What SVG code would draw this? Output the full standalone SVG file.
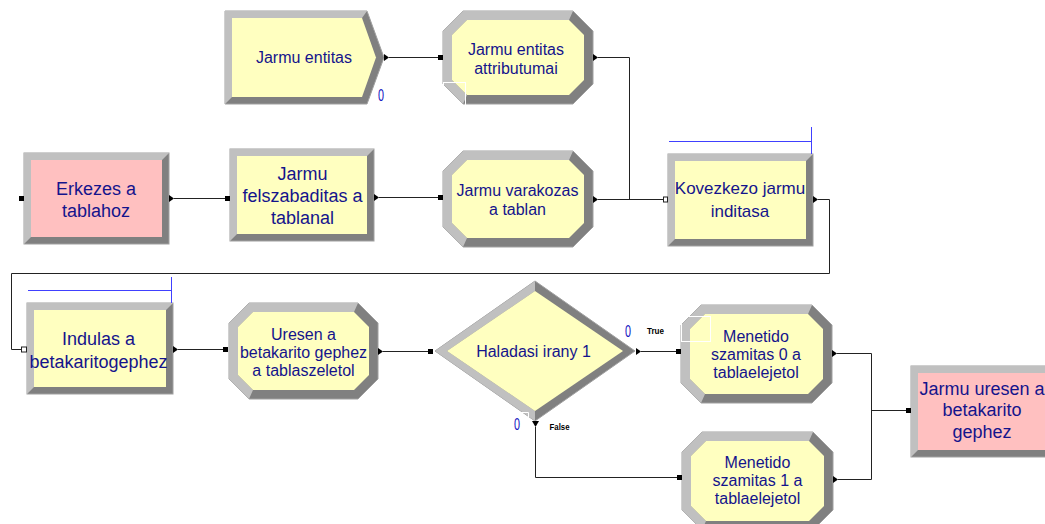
<svg xmlns="http://www.w3.org/2000/svg" width="1045" height="524" viewBox="0 0 1045 524">
<defs>
<style>
.dk{fill:#808080;stroke:#a0a0a0;stroke-width:1}
.lt{fill:#c0c0c0}
.yl{fill:#ffffc0}
.pk{fill:#ffc0c0}
.t{font-family:"Liberation Sans",Arial,sans-serif;fill:#14148c;text-anchor:middle}
.f16{font-size:16px}
.f17{font-size:17px}
.f18{font-size:18px}
.z{font-family:"Liberation Sans",Arial,sans-serif;font-size:17px;fill:#1010c0;text-anchor:middle}
.tf{font-family:"Liberation Sans",Arial,sans-serif;font-size:9px;font-weight:bold;fill:#000}
.cn{fill:none;stroke:#222;stroke-width:1}
.in{fill:#000}
.hin{fill:#fff;stroke:#222;stroke-width:1}
.ar{fill:#000}
.bl{fill:none;stroke:#4040ff;stroke-width:1}
.sel{fill:none;stroke:#fff;stroke-width:1}
</style>
</defs>
<rect width="1045" height="524" fill="#fff"/>

<g id="connectors">
<path class="cn" d="M389,57.5 H438"/>
<path class="cn" d="M598,57.5 H629.5 V199.5"/>
<path class="cn" d="M174,198.5 H225"/>
<path class="cn" d="M379,197.5 H438"/>
<path class="cn" d="M598,199.5 H663"/>
<path class="cn" d="M818,199.5 H829.5 V273.5 H11.5 V349.5 H21"/>
<path class="cn" d="M178,349.5 H223"/>
<path class="cn" d="M383,351.5 H428"/>
<path class="cn" d="M641,351.5 H676"/>
<path class="cn" d="M535.5,427 V477.5 H677"/>
<path class="cn" d="M837,353.5 H871.5 V479.5 H838"/>
<path class="cn" d="M871.5,410.5 H906"/>
</g>

<g id="jarmu-entitas">
<polygon class="dk" points="225,11 367,11 384,57.5 367,104 225,104"/>
<polygon class="lt" points="225,104 225,11 367,11 362,18 232,18 232,97"/>
<polygon class="yl" points="232,18 362,18 376,57.5 362,97 232,97"/>
<text class="t f16" x="304" y="63">Jarmu entitas</text>
<polygon class="ar" points="384,54 389,57.5 384,61"/>
<text class="z" x="381" y="101" textLength="6" lengthAdjust="spacingAndGlyphs">0</text>
</g>

<g id="jarmu-entitas-attributumai">
<polygon class="dk" points="463,11 573,11 593,31 593,84 573,104 463,104 443,84 443,31"/>
<polygon class="lt" points="463,104 443,84 443,31 463,11 573,11 569,20 467,20 452,35 452,80 467,95"/>
<polygon class="yl" points="467,20 569,20 584,35 584,80 569,95 467,95 452,80 452,35"/>
<text class="t f16" x="516" y="54.5">Jarmu entitas</text>
<text class="t f16" x="516" y="73.5">attributumai</text>
<rect class="in" x="438" y="55" width="5" height="5"/>
<polygon class="ar" points="593,54 598,57.5 593,61"/>
<rect class="sel" x="443.5" y="82.5" width="22" height="23"/>
</g>

<g id="erkezes-a-tablahoz">
<rect class="dk" x="24" y="153" width="145" height="91"/>
<polygon class="lt" points="24,153 169,153 162,160 31,160 31,237 24,244"/>
<rect class="pk" x="31" y="160" width="131" height="77"/>
<text class="t f18" x="96" y="195">Erkezes a</text>
<text class="t f18" x="96" y="216.5">tablahoz</text>
<rect class="in" x="19" y="196" width="5" height="5"/>
<polygon class="ar" points="169,195 174,198.5 169,202"/>
</g>

<g id="jarmu-felszabaditas">
<rect class="dk" x="230" y="149" width="144" height="92"/>
<polygon class="lt" points="230,149 374,149 367,156 237,156 237,234 230,241"/>
<rect class="yl" x="237" y="156" width="130" height="78"/>
<text class="t f18" x="302.5" y="179.5">Jarmu</text>
<text class="t f18" x="302.5" y="201.5">felszabaditas a</text>
<text class="t f18" x="302.5" y="223.5">tablanal</text>
<rect class="in" x="225" y="196" width="5" height="5"/>
<polygon class="ar" points="374,194 379,197.5 374,201"/>
</g>

<g id="jarmu-varakozas">
<polygon class="dk" points="463,151 573,151 593,171 593,227 573,247 463,247 443,227 443,171"/>
<polygon class="lt" points="463,247 443,227 443,171 463,151 573,151 569,160 467,160 452,175 452,223 467,238"/>
<polygon class="yl" points="467,160 569,160 584,175 584,223 569,238 467,238 452,223 452,175"/>
<text class="t f16" x="517.5" y="196">Jarmu varakozas</text>
<text class="t f16" x="517.5" y="215">a tablan</text>
<rect class="in" x="438" y="195" width="5" height="5"/>
<polygon class="ar" points="593,196 598,199.5 593,203"/>
</g>

<g id="kovezkezo-jarmu-inditasa">
<rect class="dk" x="668" y="154" width="145" height="92"/>
<polygon class="lt" points="668,154 813,154 806,161 675,161 675,239 668,246"/>
<rect class="yl" x="675" y="161" width="131" height="78"/>
<text class="t f17" x="740" y="194">Kovezkezo jarmu</text>
<text class="t f17" x="740" y="216.5">inditasa</text>
<rect class="hin" x="663.5" y="197" width="4" height="5"/>
<polygon class="ar" points="813,196 818,199.5 813,203"/>
<path class="bl" d="M669,141.5 H811.5 M811.5,127 V154"/>
</g>

<g id="indulas-a-betakaritogephez">
<rect class="dk" x="27" y="303" width="146" height="91"/>
<polygon class="lt" points="27,303 173,303 166,310 34,310 34,387 27,394"/>
<rect class="yl" x="34" y="310" width="132" height="77"/>
<text class="t f18" x="98.5" y="345">Indulas a</text>
<text class="t f18" x="98.5" y="367.5">betakaritogephez</text>
<rect class="hin" x="21.5" y="347" width="5" height="5"/>
<polygon class="ar" points="173,346 178,349.5 173,353"/>
<path class="bl" d="M28,290.5 H171.5 M171.5,277 V303"/>
</g>

<g id="uresen-a-betakarito">
<polygon class="dk" points="249,303 358,303 378,323 378,379 358,399 249,399 229,379 229,323"/>
<polygon class="lt" points="249,399 229,379 229,323 249,303 358,303 354,312 253,312 238,327 238,375 253,390"/>
<polygon class="yl" points="253,312 354,312 369,327 369,375 354,390 253,390 238,375 238,327"/>
<text class="t f16" x="303.5" y="339.5">Uresen a</text>
<text class="t f16" x="303.5" y="357.5">betakarito gephez</text>
<text class="t f16" x="303.5" y="376">a tablaszeletol</text>
<rect class="in" x="223" y="347" width="5" height="5"/>
<polygon class="ar" points="378,348 383,351.5 378,355"/>
</g>

<g id="haladasi-irany-1">
<polygon class="dk" points="435,351 535,281 635,351 535,421"/>
<polygon class="lt" points="535,421 435,351 535,281 535,291 447,351 535,411"/>
<polygon class="yl" points="447,351 535,291 623,351 535,411"/>
<text class="t f16" x="533.5" y="356.5">Haladasi irany 1</text>
<rect class="in" x="428" y="349" width="5" height="5"/>
<polygon class="ar" points="636,348 641,351.5 636,355"/>
<polygon class="ar" points="532,421 539,421 535.5,427"/>
<path class="sel" d="M517,412.5 H528.5 V420"/>
<text class="z" x="628" y="337" textLength="6" lengthAdjust="spacingAndGlyphs">0</text>
<text class="z" x="517" y="430" textLength="6" lengthAdjust="spacingAndGlyphs">0</text>
<text class="tf" x="647" y="334" textLength="17" lengthAdjust="spacingAndGlyphs">True</text>
<text class="tf" x="549.5" y="430" textLength="20" lengthAdjust="spacingAndGlyphs">False</text>
</g>

<g id="menetido-szamitas-0">
<polygon class="dk" points="701,305 812,305 832,325 832,383 812,403 701,403 681,383 681,325"/>
<polygon class="lt" points="701,403 681,383 681,325 701,305 812,305 808,314 705,314 690,329 690,379 705,394"/>
<polygon class="yl" points="705,314 808,314 823,329 823,379 808,394 705,394 690,379 690,329"/>
<text class="t f16" x="756" y="341.5">Menetido</text>
<text class="t f16" x="756" y="359.5">szamitas 0 a</text>
<text class="t f16" x="756" y="377.5">tablaelejetol</text>
<rect class="in" x="676" y="349" width="5" height="5"/>
<polygon class="ar" points="832,350 837,353.5 832,357"/>
<rect class="sel" x="681.5" y="316.5" width="29" height="25"/>
</g>

<g id="menetido-szamitas-1">
<polygon class="dk" points="702,432 813,432 833,452 833,510 813,530 702,530 682,510 682,452"/>
<polygon class="lt" points="702,530 682,510 682,452 702,432 813,432 809,441 706,441 691,456 691,506 706,521"/>
<polygon class="yl" points="706,441 809,441 824,456 824,506 809,521 706,521 691,506 691,456"/>
<text class="t f16" x="757.5" y="467.5">Menetido</text>
<text class="t f16" x="757.5" y="485.5">szamitas 1 a</text>
<text class="t f16" x="757.5" y="503.5">tablaelejetol</text>
<rect class="in" x="677" y="475" width="5" height="5"/>
<polygon class="ar" points="833,476 838,479.5 833,483"/>
</g>

<g id="jarmu-uresen-a-betakarito-gephez">
<rect class="dk" x="911" y="366" width="145" height="91"/>
<polygon class="lt" points="911,366 1056,366 1049,373 918,373 918,450 911,457"/>
<rect class="pk" x="918" y="373" width="131" height="77"/>
<text class="t f18" x="982" y="394.5">Jarmu uresen a</text>
<text class="t f18" x="982" y="416">betakarito</text>
<text class="t f18" x="982" y="437.5">gephez</text>
<rect class="in" x="906" y="408" width="5" height="5"/>
</g>
</svg>
